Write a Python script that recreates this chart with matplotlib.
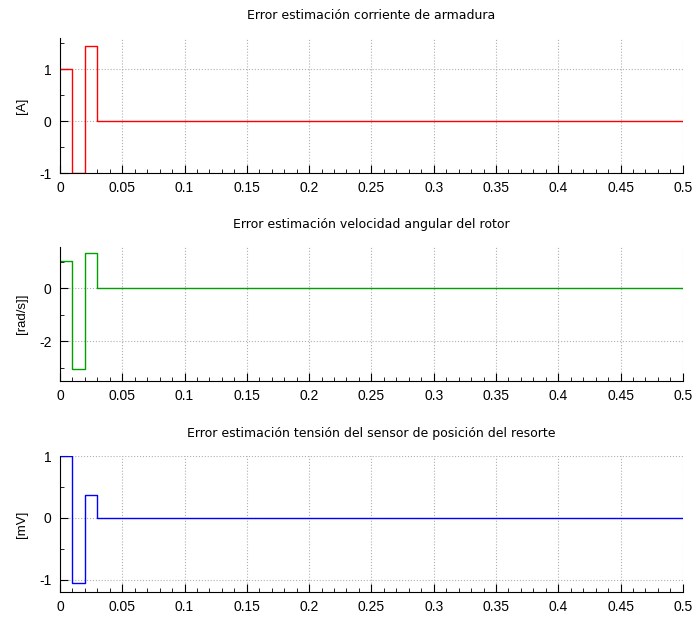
import matplotlib.pyplot as plt
from matplotlib.ticker import MultipleLocator

plt.rcParams['font.family'] = ['Liberation Sans', 'DejaVu Sans']

# tiempos de conmutación y errores de estimación
t = [0.0, 0.01, 0.02, 0.03, 0.5]
err_ia = [1.0, -1.0, 1.45, 0.0, 0.0]
err_w = [1.02, -3.05, 1.32, 0.0, 0.0]
err_v = [1.0, -1.05, 0.37, 0.0, 0.0]

titles = ["Error estimación corriente de armadura",
          "Error estimación velocidad angular del rotor",
          "Error estimación tensión del sensor de posición del resorte"]
ylabels = ["[A]", "[rad/s]]", "[mV]"]
colors = ["#ff0000", "#00a000", "#0000ff"]
ylims = [(-1.0, 1.6), (-3.5, 1.55), (-1.2, 1.0)]
ymajor = [1.0, 2.0, 1.0]
yminor = [0.5, 1.0, 0.5]

fig = plt.figure(figsize=(6.92, 6.18), dpi=100)
rects = [[0.0867, 0.720, 0.900, 0.2185],
         [0.0867, 0.3835, 0.900, 0.2168],
         [0.0867, 0.042, 0.900, 0.220]]

for i, (y, rect) in enumerate(zip([err_ia, err_w, err_v], rects)):
    ax = fig.add_axes(rect)
    ax.step(t, y, where='post', color=colors[i], lw=1.0)
    ax.set_xlim(0, 0.5)
    ax.set_ylim(*ylims[i])
    ax.xaxis.set_major_locator(MultipleLocator(0.05))
    ax.xaxis.set_minor_locator(MultipleLocator(0.01))
    ax.yaxis.set_major_locator(MultipleLocator(ymajor[i]))
    ax.yaxis.set_minor_locator(MultipleLocator(yminor[i]))
    ax.xaxis.set_major_formatter(plt.FuncFormatter(lambda v, p: f"{v:g}"))
    ax.yaxis.set_major_formatter(plt.FuncFormatter(lambda v, p: f"{v:g}"))
    ax.grid(True, which='major', color='#b0b0b0', ls=':', lw=0.8)
    ax.spines['top'].set_visible(False)
    ax.spines['right'].set_visible(False)
    ax.tick_params(which='major', direction='in', length=6, labelsize=10, pad=6)
    ax.tick_params(which='minor', direction='in', length=3)
    ax.set_title(titles[i], fontsize=9, pad=14, family='DejaVu Sans')
    ax.set_ylabel(ylabels[i], fontsize=9.5, labelpad=8)

fig.savefig("out.png", dpi=100)
